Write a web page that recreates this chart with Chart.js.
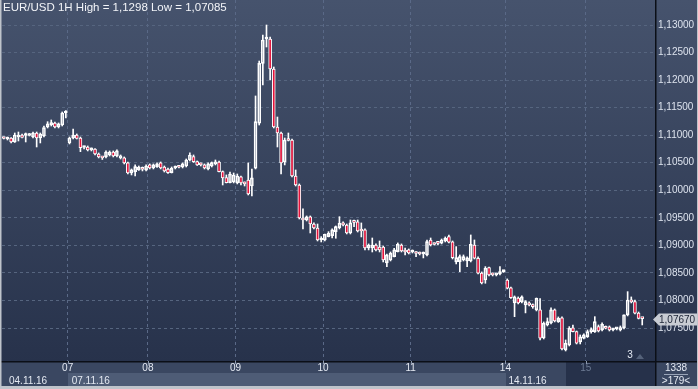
<!DOCTYPE html>
<html><head><meta charset="utf-8">
<script src="https://cdn.jsdelivr.net/npm/chart.js@4/dist/chart.umd.min.js"></script>
<style>html,body{margin:0;padding:0;background:#2e3a52;}#wrap{width:698px;height:389px;position:relative;overflow:hidden}</style>
</head><body><div id="wrap"><canvas id="c" width="698" height="389"></canvas></div>
<script>
const opens=[1.10949,1.10931,1.10949,1.10877,1.10967,1.11004,1.10995,1.10995,1.10967,1.11040,1.10949,1.10986,1.11149,1.11185,1.11222,1.11149,1.11185,1.11403,
1.10859,1.10949,1.11004,1.10949,1.10777,1.10786,1.10732,1.10750,1.10659,1.10596,1.10605,1.10641,1.10695,1.10623,1.10587,1.10587,1.10496,1.10314,1.10338,1.10369,1.10387,1.10369,
1.10460,1.10405,1.10429,1.10496,1.10423,1.10387,1.10319,1.10405,1.10423,1.10423,1.10441,1.10550,1.10611,1.10519,1.10478,1.10460,1.10387,1.10441,1.10478,1.10514,1.10338,1.10230,1.10140,1.10151,
1.10133,1.10242,1.10133,1.10187,1.10078,1.10400,1.11216,1.12305,1.12746,1.12746,1.12201,1.11149,1.11040,1.10514,1.10913,1.10913,1.10260,1.10096,1.09497,1.09461,1.09516,1.09388,1.09316,1.09098,
1.09098,1.09158,1.09176,1.09249,1.09322,1.09407,1.09370,1.09225,1.09425,1.09425,1.09280,1.09280,1.08953,1.08953,1.09007,1.08971,1.08971,1.08681,1.08735,1.08796,1.08886,1.09007,1.08899,1.08917,
1.08880,1.08862,1.08862,1.08844,1.08826,1.09098,1.09026,1.09044,1.09038,1.09080,1.09158,1.09062,1.08699,1.08704,1.08735,1.08717,1.08717,1.09007,1.08766,1.08499,1.08372,1.08596,1.08481,1.08463,1.08481,1.08523,
1.08372,1.08227,1.07955,1.08045,1.07973,1.07918,1.07955,1.07918,1.07828,1.07828,1.07319,1.07555,1.07592,1.07828,1.07615,1.07683,1.07102,1.07192,1.07501,1.07434,1.07247,1.07314,
1.07343,1.07434,1.07434,1.07525,1.07465,1.07519,1.07519,1.07465,1.07483,1.07465,1.07501,1.07737,1.08009,1.07978,1.07773,1.07676];
const highs=[1.10967,1.10967,1.10958,1.11040,1.11058,1.11022,1.11040,1.11031,1.11058,1.11058,1.11040,1.11167,1.11245,1.11276,1.11240,1.11222,1.11421,1.11445,
1.10967,1.11113,1.11022,1.10967,1.10804,1.10804,1.10768,1.10759,1.10677,1.10605,1.10714,1.10714,1.10714,1.10732,1.10641,1.10605,1.10514,1.10387,1.10460,1.10441,1.10423,1.10460,
1.10478,1.10478,1.10496,1.10514,1.10441,1.10405,1.10423,1.10441,1.10441,1.10496,1.10568,1.10682,1.10641,1.10532,1.10496,1.10478,1.10496,1.10514,1.10550,1.10532,1.10351,1.10278,1.10332,1.10314,
1.10296,1.10260,1.10151,1.10496,1.10387,1.11712,1.12346,1.12819,1.13000,1.12782,1.12238,1.11330,1.11058,1.10949,1.11040,1.10931,1.10369,1.10115,1.09661,1.09534,1.09534,1.09407,1.09388,1.09158,
1.09207,1.09249,1.09298,1.09352,1.09521,1.09425,1.09388,1.09461,1.09461,1.09461,1.09407,1.09298,1.09026,1.09134,1.09026,1.09080,1.08989,1.08844,1.08880,1.08948,1.09044,1.09026,1.08953,1.08935,
1.08917,1.08886,1.08880,1.08880,1.09098,1.09134,1.09044,1.09062,1.09116,1.09153,1.09189,1.09080,1.08977,1.08826,1.08826,1.08790,1.09189,1.09098,1.08790,1.08518,1.08614,1.08608,1.08499,1.08481,1.08614,1.08545,
1.08391,1.08245,1.08082,1.08064,1.08082,1.07997,1.07973,1.07937,1.08045,1.08036,1.07610,1.07682,1.07864,1.07846,1.07701,1.07701,1.07283,1.07525,1.07555,1.07446,1.07374,1.07392,
1.07465,1.07501,1.07706,1.07555,1.07592,1.07537,1.07537,1.07492,1.07501,1.07537,1.07737,1.08160,1.08064,1.08009,1.07791,1.07690];
const lows=[1.10931,1.10913,1.10859,1.10868,1.10895,1.10949,1.10877,1.10986,1.10949,1.10786,1.10859,1.10967,1.11131,1.11167,1.11131,1.11131,1.11167,1.11312,
1.10841,1.10931,1.10931,1.10701,1.10750,1.10714,1.10714,1.10641,1.10587,1.10559,1.10587,1.10623,1.10605,1.10605,1.10568,1.10478,1.10296,1.10278,1.10260,1.10360,1.10351,1.10351,
1.10387,1.10387,1.10414,1.10387,1.10332,1.10305,1.10314,1.10387,1.10405,1.10405,1.10423,1.10532,1.10505,1.10450,1.10441,1.10387,1.10369,1.10423,1.10460,1.10332,1.10096,1.10133,1.10133,1.10133,
1.10115,1.10096,1.10078,1.09915,1.09897,1.10387,1.11185,1.11911,1.12601,1.12002,1.11131,1.10786,1.10296,1.10460,1.10895,1.10242,1.10078,1.09479,1.09298,1.09443,1.09225,1.09298,1.09080,1.09062,
1.09080,1.09153,1.09134,1.09129,1.09298,1.09352,1.09207,1.09207,1.09340,1.09243,1.09153,1.08917,1.08917,1.08880,1.08899,1.08880,1.08699,1.08614,1.08717,1.08790,1.08880,1.08880,1.08826,1.08844,
1.08862,1.08796,1.08826,1.08772,1.08808,1.08989,1.09007,1.09007,1.09026,1.09062,1.09044,1.08753,1.08663,1.08523,1.08717,1.08614,1.08699,1.08753,1.08481,1.08300,1.08312,1.08445,1.08445,1.08445,1.08463,1.08509,
1.08209,1.08036,1.07706,1.07937,1.07955,1.07774,1.07900,1.07858,1.07810,1.07283,1.07301,1.07537,1.07574,1.07610,1.07601,1.07102,1.07083,1.07174,1.07428,1.07210,1.07210,1.07301,
1.07328,1.07404,1.07419,1.07428,1.07446,1.07483,1.07446,1.07446,1.07465,1.07446,1.07483,1.07719,1.07955,1.07755,1.07664,1.07555];
const closes=[1.10940,1.10949,1.10877,1.11004,1.11004,1.10958,1.11004,1.11022,1.11040,1.10949,1.11022,1.11140,1.11204,1.11227,1.11149,1.11204,1.11403,1.11409,
1.10949,1.11004,1.10940,1.10774,1.10786,1.10732,1.10759,1.10659,1.10605,1.10587,1.10695,1.10695,1.10623,1.10714,1.10623,1.10496,1.10314,1.10369,1.10429,1.10423,1.10382,1.10441,
1.10405,1.10460,1.10478,1.10405,1.10351,1.10319,1.10399,1.10423,1.10418,1.10478,1.10550,1.10641,1.10519,1.10460,1.10460,1.10405,1.10478,1.10501,1.10514,1.10338,1.10224,1.10140,1.10296,1.10278,
1.10260,1.10133,1.10115,1.09933,1.10224,1.11245,1.12305,1.12728,1.12764,1.12201,1.11149,1.11040,1.10496,1.10913,1.10904,1.10260,1.10096,1.09497,1.09461,1.09516,1.09388,1.09316,1.09098,1.09116,
1.09202,1.09220,1.09280,1.09340,1.09401,1.09370,1.09225,1.09407,1.09416,1.09261,1.09261,1.08953,1.09007,1.09007,1.08917,1.08917,1.08735,1.08826,1.08857,1.08917,1.09021,1.08899,1.08880,1.08862,
1.08899,1.08853,1.08844,1.08862,1.09067,1.09007,1.09016,1.09035,1.09098,1.09129,1.09056,1.08777,1.08777,1.08795,1.08795,1.08772,1.09021,1.08766,1.08494,1.08318,1.08585,1.08463,1.08463,1.08481,1.08523,1.08527,
1.08221,1.08050,1.08064,1.07955,1.08064,1.07978,1.07918,1.07887,1.08040,1.07314,1.07586,1.07615,1.07828,1.07628,1.07676,1.07120,1.07223,1.07495,1.07434,1.07223,1.07338,1.07374,
1.07434,1.07465,1.07615,1.07446,1.07568,1.07495,1.07465,1.07483,1.07486,1.07506,1.07737,1.08009,1.07973,1.07768,1.07676,1.07670];

const slotCount=179;
const dayStarts=[18,40,64,88,112,138,160];
const dayLabels=['07','08','09','10','11','14','15'];
const dateLabels=['04.11.16','07.11.16','14.11.16'];
const yTicks=[1.13,1.125,1.12,1.115,1.11,1.105,1.10,1.095,1.09,1.085,1.08,1.075];
const titleText='EUR/USD 1H High = 1,1298 Low = 1,07085';
const lastPrice=1.0767;
const barsInfo=['1338','>179<'];

const labels=[];for(let i=0;i<slotCount;i++)labels.push(String(i));
const bodies=opens.map((o,i)=>[o,closes[i]]);
const upper=opens.map((o,i)=>[Math.max(o,closes[i]),highs[i]]);
const lower=opens.map((o,i)=>[lows[i],Math.min(o,closes[i])]);
const RED='#e3143c';
const fmt=v=>v.toFixed(5).replace('.',',');
const FONT="'Liberation Sans', Arial, sans-serif";

const deco={
 id:'deco',
 beforeDraw(ch){
  const c=ch.ctx;const W=ch.width;
  const g=c.createLinearGradient(0,0,0,361);
  g.addColorStop(0,'#46536d');g.addColorStop(1,'#27324b');
  c.save();c.fillStyle=g;c.fillRect(0,0,W,361);c.restore();
 },
 afterDraw(ch){
  const c=ch.ctx;const x=ch.scales.x,y=ch.scales.y;const a=ch.chartArea;
  c.save();
  c.fillStyle='#3a4761';c.fillRect(0,361,698,28);
  const xl=i=>x.getPixelForValue(i)-(x.getPixelForValue(1)-x.getPixelForValue(0))/2;
  c.fillStyle='#4e5c76';c.fillRect(Math.round(xl(dayStarts[0])),373,Math.round(xl(dayStarts[5])-xl(dayStarts[0])),13);
  c.fillStyle='#26314a';c.fillRect(566,362,a.right-566,24);
  c.fillStyle='#0b0f17';c.fillRect(0,a.bottom,698,1.5);c.fillRect(a.right,0,1.5,386);
  c.fillStyle='#bfc4cb';c.fillRect(0,0,1.5,389);c.fillRect(0,386,698,3);c.fillRect(697,0,1,389);
  c.font='10px '+FONT;c.textAlign='center';c.textBaseline='middle';
  dayStarts.forEach((d,k)=>{const px=xl(d);
    c.fillStyle=(k===6)?'#6c7a93':'#e4e9f2';c.fillText(dayLabels[k],px,368);
    c.fillStyle='#8d99ad';c.fillRect(Math.round(px),361,1,3);
  });
  c.textAlign='left';c.fillStyle='#e4e9f2';
  c.fillText(dateLabels[0],9,381);
  c.fillText(dateLabels[1],xl(dayStarts[0])+4,381);
  c.fillText(dateLabels[2],xl(dayStarts[5])+3,381);
  c.textAlign='center';c.fillText(barsInfo[0],676,368);
  c.fillStyle='#9aa5b8';c.fillRect(664,374,24,1);
  c.fillStyle='#e4e9f2';c.fillText(barsInfo[1],676,381);
  c.fillText('3',630,355);
  c.fillStyle='#55627a';c.beginPath();c.moveTo(636,359);c.lineTo(640,354);c.lineTo(644,359);c.fill();
  const py=Math.round(y.getPixelForValue(lastPrice))+0.5;
  c.fillStyle='#c8ccd3';c.beginPath();c.moveTo(653,py);c.lineTo(659,py-6);c.lineTo(697,py-6);c.lineTo(697,py+6);c.lineTo(659,py+6);c.closePath();c.fill();
  c.fillStyle='#1c2436';c.textAlign='left';c.fillText(fmt(lastPrice),659,py+0.5);
  c.font='11.5px '+FONT;c.textBaseline='top';c.fillStyle='#f2f4f8';c.fillText(titleText,3,2);
  c.restore();
 }
};

new Chart(document.getElementById('c'),{
 type:'bar',
 data:{labels,datasets:[
  {data:bodies,order:0,grouped:false,barThickness:3,minBarLength:2,borderWidth:1,borderSkipped:false,borderColor:'#ffffff',
   backgroundColor:bodies.map(b=>b[1]<b[0]?RED:'rgba(0,0,0,0)')},
  {data:upper,order:1,grouped:false,barThickness:1,borderWidth:0,backgroundColor:'#ffffff'},
  {data:lower,order:1,grouped:false,barThickness:1,borderWidth:0,backgroundColor:'#ffffff'}
 ]},
 options:{responsive:false,animation:false,devicePixelRatio:1,
  layout:{padding:{left:2,right:0,top:0,bottom:28}},
  plugins:{legend:{display:false},tooltip:{enabled:false}},
  scales:{
   x:{type:'category',offset:true,ticks:{display:false},
     grid:{offset:true,drawTicks:false,lineWidth:1,color:ctx=>dayStarts.includes(ctx.index)?'#5a6987':'rgba(0,0,0,0)'},
     border:{display:false,dash:[3,3]}},
   y:{position:'right',min:1.06901,max:1.13454,
     afterBuildTicks:s=>{s.ticks=yTicks.map(v=>({value:v}));},
     afterFit:s=>{s.width=43;s.paddingTop=0;s.paddingBottom=0;},
     ticks:{color:'#dde3ee',font:{family:FONT,size:10},padding:3,callback:v=>fmt(v)},
     grid:{drawTicks:false,color:'#56657f'},border:{display:false,dash:[3,3]}}
  }
 },
 plugins:[deco]
});
</script></body></html>
